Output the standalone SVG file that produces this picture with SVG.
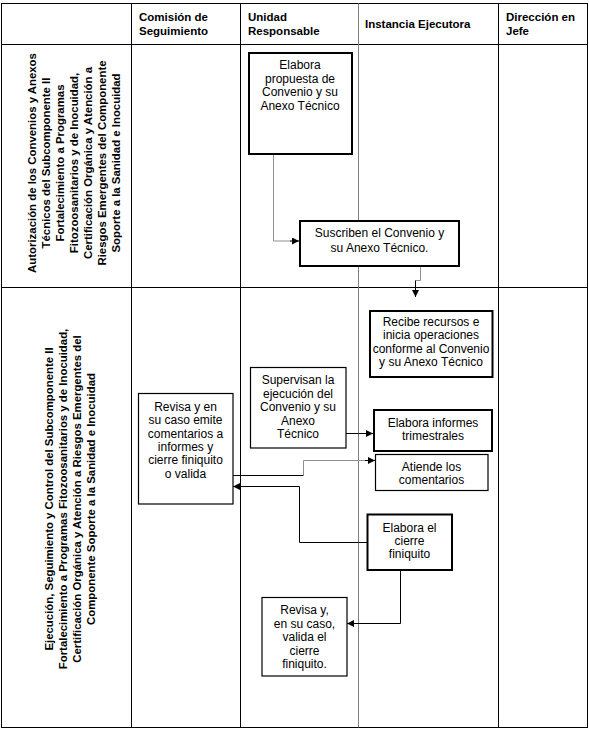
<svg xmlns="http://www.w3.org/2000/svg" width="589" height="729" viewBox="0 0 589 729">
<style>
.grid{stroke:#000;stroke-width:1;fill:none}
.gray{stroke:#808080;stroke-width:1;fill:none}
.hdr{font-family:"Liberation Sans",Arial,sans-serif;font-size:11.5px;font-weight:bold;fill:#000}
.lane{font-family:"Liberation Sans",Arial,sans-serif;font-size:11.4px;font-weight:bold;fill:#000;text-anchor:middle}
.bt{font-family:"Liberation Sans",Arial,sans-serif;font-size:12px;fill:#000;text-anchor:middle}
.thick{fill:#fff;stroke:#000;stroke-width:2}
.thin{fill:#fff;stroke:#000;stroke-width:1.2}
.cb{stroke:#000;stroke-width:1;fill:none}
.cg{stroke:#909090;stroke-width:1;fill:none}
</style>
<defs>
<marker id="ah" viewBox="0 0 10 10" refX="10" refY="5" markerWidth="7" markerHeight="7" markerUnits="userSpaceOnUse" orient="auto">
<path d="M0,0 L10,5 L0,10 z" fill="#000"/>
</marker>
</defs>
<rect width="589" height="729" fill="#fff"/>
<g id="table">
<rect class="grid" x="1.5" y="3.5" width="586" height="724"/>
<line class="grid" x1="1.5" y1="44.5" x2="587.5" y2="44.5"/>
<line class="grid" x1="1.5" y1="287.5" x2="587.5" y2="287.5"/>
<line class="grid" x1="131.5" y1="3.5" x2="131.5" y2="727.5"/>
<line class="grid" x1="240.5" y1="3.5" x2="240.5" y2="727.5"/>
<line class="gray" x1="358.5" y1="3.5" x2="358.5" y2="727.5"/>
<line class="grid" x1="498.5" y1="3.5" x2="498.5" y2="727.5"/>
</g>
<g id="headers">
<text class="hdr" x="139" y="21">Comisión de</text>
<text class="hdr" x="139" y="34.5">Seguimiento</text>
<text class="hdr" x="248" y="21">Unidad</text>
<text class="hdr" x="248" y="34.5">Responsable</text>
<text class="hdr" x="365" y="28">Instancia Ejecutora</text>
<text class="hdr" x="506" y="21">Dirección en</text>
<text class="hdr" x="506" y="34.5">Jefe</text>
</g>
<g id="lane1" transform="translate(0,163) rotate(-90)">
<text class="lane" x="0" y="36">Autorización de los Convenios y Anexos</text>
<text class="lane" x="0" y="50">Técnicos del Subcomponente II</text>
<text class="lane" x="0" y="64">Fortalecimiento a Programas</text>
<text class="lane" x="0" y="78">Fitozoosanitarios y de Inocuidad,</text>
<text class="lane" x="0" y="92">Certificación Orgánica y Atención a</text>
<text class="lane" x="0" y="106">Riesgos Emergentes del Componente</text>
<text class="lane" x="0" y="120">Soporte a la Sanidad e Inocuidad</text>
</g>
<g id="lane2" transform="translate(0,499) rotate(-90)">
<text class="lane" x="0" y="53">Ejecución, Seguimiento y Control del Subcomponente II</text>
<text class="lane" x="0" y="67">Fortalecimiento a Programas Fitozoosanitarios y de Inocuidad,</text>
<text class="lane" x="0" y="81">Certificación Orgánica y Atención a Riesgos Emergentes del</text>
<text class="lane" x="0" y="95">Componente Soporte a la Sanidad e Inocuidad</text>
</g>
<g id="connectors">
<polyline class="cg" points="273.5,154 273.5,241 291,241"/>
<line class="cb" x1="290" y1="241" x2="299" y2="241" marker-end="url(#ah)"/>
<polyline class="cg" points="420.5,266 420.5,280.5 415.5,280.5"/>
<line class="cb" x1="415.5" y1="280.5" x2="415.5" y2="297" marker-end="url(#ah)"/>
<line class="cb" x1="346" y1="433.5" x2="373" y2="433.5" marker-end="url(#ah)"/>
<polyline class="cb" points="233,475.5 303.5,475.5"/>
<polyline class="cg" points="303.5,475.5 303.5,460.5 366,460.5"/>
<line class="cb" x1="365" y1="460.5" x2="375" y2="460.5" marker-end="url(#ah)"/>
<polyline class="cb" points="367,542.5 299.5,542.5 299.5,486.5 233,486.5" marker-end="url(#ah)"/>
<polyline class="cb" points="400.5,570 400.5,623.5 347,623.5" marker-end="url(#ah)"/>
</g>
<g id="n1">
<rect class="thick" x="249" y="53" width="103" height="101"/>
<text class="bt" x="300" y="69">Elabora</text>
<text class="bt" x="300" y="82.5">propuesta de</text>
<text class="bt" x="300" y="96">Convenio y su</text>
<text class="bt" x="300" y="109.5">Anexo Técnico</text>
</g>
<g id="n2">
<rect class="thick" x="300" y="221" width="159" height="45"/>
<text class="bt" x="379.5" y="237">Suscriben el Convenio y</text>
<text class="bt" x="379.5" y="251.5">su Anexo Técnico.</text>
</g>
<g id="n3">
<rect class="thick" x="370" y="311" width="122.5" height="66"/>
<text class="bt" x="431" y="326">Recibe recursos e</text>
<text class="bt" x="431" y="339.3">inicia operaciones</text>
<text class="bt" x="431" y="352.6">conforme al Convenio</text>
<text class="bt" x="431" y="366">y su Anexo Técnico</text>
</g>
<g id="n4">
<rect class="thin" x="250.5" y="367.5" width="95.5" height="80.5"/>
<text class="bt" x="298" y="384">Supervisan la</text>
<text class="bt" x="298" y="397.5">ejecución del</text>
<text class="bt" x="298" y="411">Convenio y su</text>
<text class="bt" x="298" y="424.5">Anexo</text>
<text class="bt" x="298" y="438">Técnico</text>
</g>
<g id="n5">
<rect class="thin" x="138.5" y="393.5" width="94.5" height="110.5" stroke-width="1.5"/>
<text class="bt" x="185.5" y="411">Revisa y en</text>
<text class="bt" x="185.5" y="424.3">su caso emite</text>
<text class="bt" x="185.5" y="437.6">comentarios a</text>
<text class="bt" x="185.5" y="451">informes y</text>
<text class="bt" x="185.5" y="464.3">cierre finiquito</text>
<text class="bt" x="185.5" y="477.6">o valida</text>
</g>
<g id="n6">
<rect class="thick" x="374" y="410" width="118" height="41"/>
<text class="bt" x="433" y="426.5">Elabora informes</text>
<text class="bt" x="433" y="440">trimestrales</text>
</g>
<g id="n7">
<rect class="thin" x="375.5" y="454.5" width="112.5" height="36"/>
<text class="bt" x="431.5" y="471">Atiende los</text>
<text class="bt" x="431.5" y="484.3">comentarios</text>
</g>
<g id="n8">
<rect class="thick" x="367.5" y="514.5" width="84.5" height="55.5"/>
<text class="bt" x="409.5" y="531.5">Elabora el</text>
<text class="bt" x="409.5" y="545">cierre</text>
<text class="bt" x="409.5" y="558.3">finiquito</text>
</g>
<g id="n9">
<rect class="thin" x="262" y="597.5" width="85" height="78.5"/>
<text class="bt" x="304.5" y="614">Revisa y,</text>
<text class="bt" x="304.5" y="627.5">en su caso,</text>
<text class="bt" x="304.5" y="641">valida el</text>
<text class="bt" x="304.5" y="654.5">cierre</text>
<text class="bt" x="304.5" y="668">finiquito.</text>
</g>
</svg>
